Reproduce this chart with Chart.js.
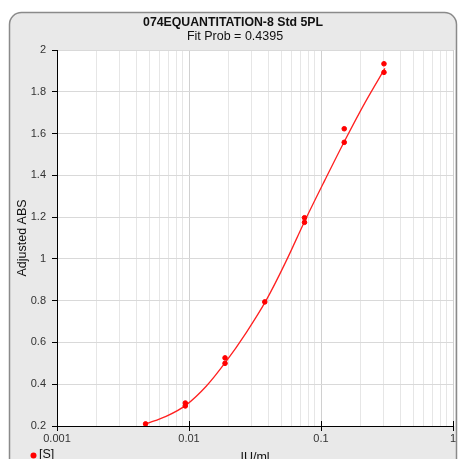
<!DOCTYPE html>
<html>
<head>
<meta charset="utf-8">
<script src="https://cdn.jsdelivr.net/npm/chart.js@4"></script>
<style>
  html, body { margin: 0; padding: 0; background: #fff; }
  #wrap { width: 458px; height: 459px; }
</style>
</head>
<body>
<div id="wrap"><canvas id="myChart" width="458" height="459"></canvas></div>
<script>
// standards [S] : concentration (IU/ml) et ABS ajustée
const stdConc = [0.0046875, 0.009375, 0.009375, 0.01875, 0.01875, 0.0375, 0.075, 0.075, 0.15, 0.15, 0.3, 0.3];
const stdAbs = [0.21, 0.31, 0.296, 0.526, 0.50, 0.794, 1.197, 1.175, 1.623, 1.558, 1.934, 1.893];

// courbe 5PL
const fitConc = [0.0047, 0.0067, 0.0095, 0.0135, 0.019, 0.027, 0.0383, 0.0543, 0.0757, 0.107, 0.152, 0.2155, 0.305];
const fitAbs = [0.21, 0.246, 0.3, 0.39, 0.507, 0.645, 0.8, 0.988, 1.184, 1.377, 1.568, 1.748, 1.912];

const xTicks = [];
for (let d = -3; d < 0; d++) {
    for (let m = 1; m < 10; m++) xTicks.push(Number((m * Math.pow(10, d)).toPrecision(3)));
}
xTicks.push(1);

const titleText = '074EQUANTITATION-8 Std 5PL';
const subtitleText = 'Fit Prob = 0.4395';
const xTitle = 'IU/ml';
const yTitle = 'Adjusted ABS';
const legendLabel = '[S]';

const isDecade = v => Math.abs(Math.log10(v) - Math.round(Math.log10(v))) < 1e-6;

const ctx = document.getElementById('myChart');

const decor = {
    id: 'decor',
    beforeDraw(chart) {
        const c = chart.ctx;
        const a = chart.chartArea;
        c.save();
        c.fillStyle = '#fff';
        c.fillRect(0, 0, chart.width, chart.height);
        // panneau gris arrondi
        c.beginPath();
        c.roundRect(9.5, 12.5, 447, 470, 12);
        c.fillStyle = '#e9e9e9';
        c.fill();
        c.strokeStyle = '#8a8a8a';
        c.lineWidth = 1.5;
        c.stroke();
        c.fillStyle = '#fff';
        c.fillRect(a.left, a.top, a.right - a.left + 2, a.bottom - a.top);
        c.restore();
    },
    afterDraw(chart) {
        const c = chart.ctx;
        const a = chart.chartArea;
        c.save();
        c.fillStyle = '#111';
        c.textAlign = 'center';
        c.textBaseline = 'alphabetic';
        c.font = 'bold 12.3px "Liberation Sans", Arial, sans-serif';
        c.fillText(titleText, 233, 26);
        c.font = '12.5px "Liberation Sans", Arial, sans-serif';
        c.fillText(subtitleText, 235, 40);
        c.fillText(xTitle, (a.left + a.right) / 2, 461);
        c.save();
        c.translate(26, (a.top + a.bottom) / 2);
        c.rotate(-Math.PI / 2);
        c.fillText(yTitle, 0, 0);
        c.restore();
        // légende
        c.textAlign = 'left';
        c.fillText(legendLabel, 39, 458);
        c.beginPath();
        c.arc(33.5, 455.5, 3, 0, Math.PI * 2);
        c.fillStyle = '#ff0000';
        c.fill();
        // petites graduations vers le haut sur l'axe x
        c.strokeStyle = '#000';
        c.lineWidth = 1;
        const xs = chart.scales.x;
        [0.01, 0.1, 1].forEach(v => {
            const px = Math.round(xs.getPixelForValue(v)) + 0.5;
            c.beginPath();
            c.moveTo(px, a.bottom);
            c.lineTo(px, a.bottom - 5);
            c.stroke();
        });
        c.restore();
    }
};

let myChart = new Chart(ctx, {
    type: 'scatter',
    data: {
        datasets: [{
            label: legendLabel,
            data: stdConc.map((x, i) => ({ x: x, y: stdAbs[i] })),
            backgroundColor: '#ff0000',
            borderColor: '#ff0000',
            pointRadius: 2.3,
            pointHoverRadius: 2.3,
            order: 1
        }, {
            label: 'fit',
            data: fitConc.map((x, i) => ({ x: x, y: fitAbs[i] })),
            showLine: true,
            tension: 0.35,
            borderColor: '#ff2020',
            borderWidth: 1.3,
            pointRadius: 0,
            order: 2
        }]
    },
    options: {
        responsive: false,
        animation: false,
        layout: { padding: { left: 0, top: 50, right: 5, bottom: 0 } },
        plugins: {
            legend: { display: false },
            title: { display: false },
            tooltip: { enabled: false }
        },
        scales: {
            x: {
                type: 'logarithmic',
                min: 0.001,
                max: 1,
                afterBuildTicks: s => { s.ticks = xTicks.map(v => ({ value: v })); },
                afterFit: s => { s.height = 33; },
                border: { color: '#000', width: 1 },
                grid: {
                    color: c => isDecade(c.tick.value) ? '#d0d0d0' : '#e6e6e6',
                    tickColor: c => isDecade(c.tick.value) ? '#000' : 'rgba(0,0,0,0)',
                    tickLength: 5
                },
                ticks: {
                    autoSkip: false,
                    maxRotation: 0,
                    padding: 1,
                    color: '#333',
                    font: { family: '"Liberation Sans", Arial, sans-serif', size: 11 },
                    callback: v => isDecade(v) ? String(Number(v.toPrecision(3))) : ''
                }
            },
            y: {
                min: 0.2,
                max: 2,
                afterFit: s => { s.width = 57; },
                border: { color: '#000', width: 1 },
                grid: {
                    color: '#d9d9d9',
                    tickColor: '#000',
                    tickLength: 5
                },
                ticks: {
                    stepSize: 0.2,
                    padding: 6,
                    color: '#333',
                    font: { family: '"Liberation Sans", Arial, sans-serif', size: 11 },
                    callback: v => String(Number(v.toFixed(1)))
                }
            }
        }
    },
    plugins: [decor]
});
</script>
</body>
</html>
